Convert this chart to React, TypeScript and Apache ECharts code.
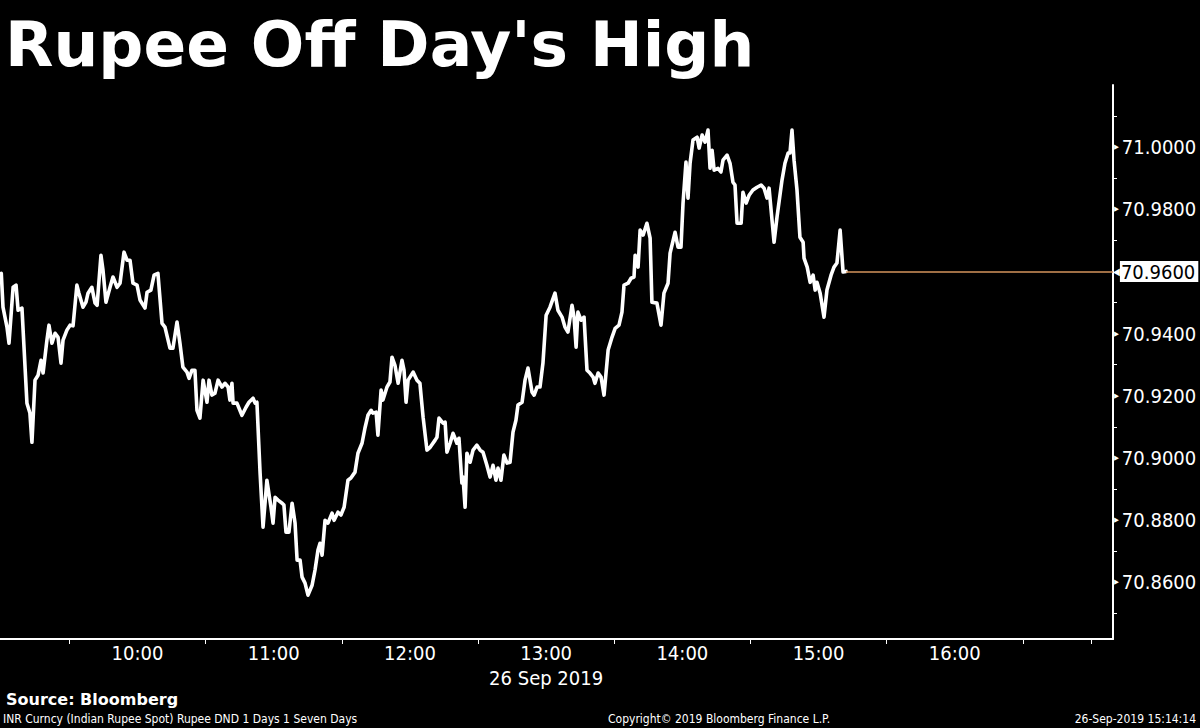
import React, { useEffect, useRef } from "react";
import * as echarts from "echarts";

// Minutes after 09:00 on 26 Sep 2019
const MINUTES = [
  0, 0.75, 2.5, 3.4, 5.2, 6.5, 7.4, 9.1, 11.3, 12.6, 13.5, 14.85, 16.2, 17.5, 18.4, 20.1, 21.0, 22.3, 23.7, 25.0,
  26.3, 27.2, 28.9, 30.3, 31.6, 33.3, 34.2, 36.0, 37.3, 38.2, 39.9, 41.3, 42.2, 43.9, 44.8, 46.1, 47.9, 49.2, 51.0, 52.3,
  54.05, 55.4, 56.7, 58.0, 59.8, 61.1, 63.3, 64.2, 65.9, 67.3, 69.0, 70.8, 72.1, 74.3, 75.6, 77.4, 78.7, 80.0, 81.8, 82.7,
  84.0, 85.3, 86.2, 87.5, 88.9, 90.6, 91.5, 92.8, 94.1, 95.5, 97.2, 98.5, 99.9, 100.7, 101.6, 102.1, 103.8, 106.0, 107.8, 109.1,
  110.9, 111.8, 112.6, 114.0, 115.3, 117.0, 118.8, 119.7, 120.6, 121.9, 123.7, 124.5, 125.4, 126.7, 128.1, 129.4, 130.3, 131.6, 132.5, 133.8,
  135.1, 136.9, 138.2, 139.5, 140.4, 141.3, 142.6, 143.9, 145.7, 146.6, 148.3, 149.6, 151.0, 152.7, 154.0, 155.8, 157.1, 158.9, 160.2, 161.5,
  162.9, 163.7, 165.1, 165.9, 167.3, 168.1, 169.9, 171.2, 172.1, 173.4, 174.8, 176.5, 177.4, 178.3, 179.2, 181.4, 183.1, 184.4, 185.8, 187.5,
  188.9, 191.1, 191.9, 192.8, 194.6, 195.5, 196.3, 197.7, 199.0, 200.7, 201.6, 202.9, 203.4, 204.3, 205.1, 206.5, 207.8, 209.5, 210.9, 212.2,
  213.9, 215.3, 216.6, 217.9, 218.8, 220.1, 221.4, 222.8, 224.1, 225.4, 226.7, 227.6, 229.4, 230.7, 232.0, 233.8, 234.7, 236.0, 237.3, 238.6,
  240.0, 241.7, 243.9, 245.2, 247.0, 248.3, 249.6, 251.4, 252.3, 253.2, 254.0, 255.4, 256.7, 258.0, 259.3, 260.7, 261.5, 262.9, 264.2, 265.5,
  267.3, 269.0, 270.4, 272.1, 273.4, 274.3, 276.1, 277.4, 278.7, 279.2, 280.5, 281.4, 282.7, 284.4, 285.8, 286.6, 288.8, 290.6, 291.9, 293.7,
  294.6, 296.8, 298.1, 299.4, 300.3, 301.6, 302.5, 303.4, 304.7, 306.5, 307.4, 308.7, 310.0, 311.3, 312.2, 313.1, 314.0, 315.7, 317.0, 317.9,
  319.7, 321.0, 322.3, 323.2, 324.1, 325.9, 326.7, 328.1, 329.4, 331.1, 332.9, 334.7, 336.0, 337.3, 338.2, 339.5, 340.4, 341.7, 343.9, 345.2,
  346.6, 347.4, 348.3, 349.2, 350.5, 351.8, 353.2, 353.6, 355.0, 356.3, 357.6, 358.5, 359.3, 360.7, 362.4, 363.7, 365.5, 366.8, 368.1, 369.5,
  370.8, 372.1,
];

const RATE = [
  70.9594, 70.9485, 70.9421, 70.9369, 70.9549, 70.9556, 70.9475, 70.9482, 70.9176, 70.9144, 70.905, 70.925, 70.9266, 70.9314, 70.9273, 70.9379, 70.9427, 70.9369, 70.9401, 70.9388,
  70.9305, 70.9379, 70.9411, 70.9427, 70.9425, 70.9556, 70.953, 70.9485, 70.9501, 70.953, 70.9549, 70.9498, 70.9491, 70.9652, 70.9604, 70.9501, 70.9549, 70.9582, 70.9549, 70.9562,
  70.9662, 70.9636, 70.9636, 70.9562, 70.9556, 70.9508, 70.9482, 70.9533, 70.954, 70.9588, 70.9594, 70.9433, 70.9421, 70.9353, 70.9353, 70.9437, 70.9369, 70.9292, 70.9276, 70.9256,
  70.9282, 70.9282, 70.9153, 70.9128, 70.925, 70.9179, 70.925, 70.9202, 70.9208, 70.925, 70.9228, 70.924, 70.9228, 70.9186, 70.924, 70.9176, 70.9176, 70.9137, 70.9163, 70.9179,
  70.9192, 70.9176, 70.9179, 70.8951, 70.8777, 70.8928, 70.8841, 70.879, 70.8873, 70.8864, 70.8854, 70.8848, 70.8761, 70.8761, 70.8854, 70.879, 70.8671, 70.8671, 70.8616, 70.8597,
  70.8558, 70.859, 70.8639, 70.8703, 70.8725, 70.8687, 70.8799, 70.879, 70.8822, 70.8799, 70.8825, 70.8816, 70.8841, 70.8928, 70.8935, 70.8954, 70.9015, 70.9047, 70.9096, 70.9137,
  70.9153, 70.9144, 70.9147, 70.9073, 70.9218, 70.9186, 70.9228, 70.9244, 70.9324, 70.9298, 70.924, 70.9314, 70.9282, 70.9179, 70.925, 70.9276, 70.925, 70.924, 70.9131, 70.9025,
  70.9034, 70.9057, 70.9066, 70.9128, 70.9112, 70.9115, 70.9018, 70.9047, 70.9079, 70.9047, 70.9063, 70.8919, 70.8938, 70.8841, 70.9015, 70.8986, 70.9025, 70.9041, 70.9025, 70.9018,
  70.8976, 70.8938, 70.8976, 70.8928, 70.8967, 70.8928, 70.9009, 70.8983, 70.8986, 70.9083, 70.9121, 70.917, 70.9179, 70.925, 70.9289, 70.9211, 70.9202, 70.9228, 70.9228, 70.9305,
  70.9459, 70.9485, 70.953, 70.9475, 70.9453, 70.9421, 70.9405, 70.9491, 70.9453, 70.9356, 70.9469, 70.9443, 70.9453, 70.9282, 70.9273, 70.926, 70.924, 70.9273, 70.926, 70.9202,
  70.9347, 70.9388, 70.9417, 70.9427, 70.9469, 70.9556, 70.9562, 70.9578, 70.9582, 70.9652, 70.9614, 70.9733, 70.9717, 70.9755, 70.9707, 70.9501, 70.9498, 70.9427, 70.953, 70.9562,
  70.9659, 70.9726, 70.9678, 70.9678, 70.982, 70.9952, 70.9836, 70.9948, 71.0023, 71.0032, 70.9997, 71.0039, 71.0016, 71.0055, 70.9932, 70.999, 70.9926, 70.9932, 70.992, 70.9958,
  70.9974, 70.9948, 70.9887, 70.9878, 70.9755, 70.9755, 70.9855, 70.982, 70.9845, 70.9862, 70.9871, 70.9878, 70.9868, 70.9836, 70.9868, 70.9765, 70.9694, 70.9775, 70.9894, 70.9948,
  70.9981, 70.9981, 71.0055, 70.9958, 70.9862, 70.971, 70.9694, 70.9643, 70.9614, 70.9565, 70.9588, 70.954, 70.9565, 70.953, 70.9453, 70.954, 70.9588, 70.9614, 70.9627, 70.9733,
  70.9598, 70.96,
];

const LAST_VALUE = 70.96;
const X_MIN = -0.57;
const X_MAX = 489.7;
const Y_MIN = 70.8417;
const Y_MAX = 71.02;
const X_LABEL_MINUTES = [60, 120, 180, 240, 300, 360, 420];
const X_TICK_MINUTES = [30, 90, 150, 210, 270, 330, 390, 450, 480];
const Y_LABEL_VALUES = [70.86, 70.88, 70.9, 70.92, 70.94, 70.98, 71.0];
const Y_TICK_VALUES = [70.85, 70.87, 70.89, 70.91, 70.93, 70.95, 70.97, 70.99, 71.01];
const DATE_LABEL = "26 Sep 2019";
const DATE_LABEL_AT = 240;
const TITLE = "Rupee Off Day's High";
const SOURCE = "Source: Bloomberg";
const FOOT_LEFT = "INR Curncy (Indian Rupee Spot) Rupee DND 1 Days 1 Seven Days";
const FOOT_MID = "Copyright\u00a9 2019 Bloomberg Finance L.P.";
const FOOT_RIGHT = "26-Sep-2019 15:14:14";

const AXIS_FONT = '"DejaVu Sans Condensed", "DejaVu Sans", sans-serif';
const LAST_LINE_COLOR = "#d4955c";

function fmtTime(m: number): string {
  const total = Math.round(m) + 9 * 60;
  const h = Math.floor(total / 60);
  const mm = total % 60;
  return `${h}:${mm < 10 ? "0" + mm : mm}`;
}

export default function App() {
  const ref = useRef<HTMLDivElement>(null);

  useEffect(() => {
    if (!ref.current) return;
    const chart = echarts.init(ref.current, undefined, { renderer: "svg" });
    const data = MINUTES.map((m, i) => [m, RATE[i]]);
    const lastM = MINUTES[MINUTES.length - 1];

    chart.setOption({
      animation: false,
      backgroundColor: "#000000",
      grid: { left: 0, right: 87, top: 85, bottom: 89, containLabel: false },
      xAxis: {
        type: "value",
        min: X_MIN,
        max: X_MAX,
        splitLine: { show: false },
        axisLine: { show: true, onZero: false, lineStyle: { color: "#ffffff", width: 2 } },
        axisTick: {
          show: true,
          inside: false,
          length: 5,
          customValues: X_TICK_MINUTES,
          lineStyle: { color: "#ffffff", width: 1 },
        },
        axisLabel: {
          show: true,
          customValues: X_LABEL_MINUTES,
          color: "#ffffff",
          fontFamily: AXIS_FONT,
          fontSize: 20,
          lineHeight: 25,
          margin: 1,
          formatter: (v: number) =>
            Math.round(v) === DATE_LABEL_AT ? `${fmtTime(v)}\n${DATE_LABEL}` : fmtTime(v),
        },
      },
      yAxis: {
        type: "value",
        position: "right",
        min: Y_MIN,
        max: Y_MAX,
        scale: true,
        splitLine: { show: false },
        axisLine: { show: true, onZero: false, lineStyle: { color: "#ffffff", width: 2 } },
        axisTick: {
          show: true,
          inside: false,
          length: 4,
          customValues: Y_TICK_VALUES,
          lineStyle: { color: "#ffffff", width: 1 },
        },
        axisLabel: {
          show: true,
          customValues: Y_LABEL_VALUES,
          margin: 1,
          formatter: (v: number) => `{t|\u25B6}{v|${v.toFixed(4)}}`,
          rich: {
            t: { color: "#ffffff", fontSize: 7, fontFamily: AXIS_FONT, padding: [0, 3, 0, 0] },
            v: { color: "#ffffff", fontSize: 20, fontFamily: AXIS_FONT },
          },
        },
      },
      series: [
        {
          type: "line",
          data,
          showSymbol: false,
          symbol: "none",
          color: "#ffffff",
          lineStyle: { color: "#ffffff", width: 3.6, join: "round", cap: "round" },
          z: 3,
          markLine: {
            silent: true,
            symbol: "none",
            animation: false,
            lineStyle: { color: LAST_LINE_COLOR, width: 1.5, type: "solid", opacity: 1 },
            label: {
              show: true,
              position: "end",
              distance: 0,
              formatter: `{a|\u25C0}{b|${LAST_VALUE.toFixed(4)}}`,
              rich: {
                a: { color: "#ffffff", fontSize: 10, fontFamily: AXIS_FONT, padding: [0, 0, 0, 0] },
                b: {
                  color: "#000000",
                  backgroundColor: "#ffffff",
                  fontSize: 20,
                  fontFamily: AXIS_FONT,
                  padding: [1, 3, 0, 1],
                },
              },
            },
            data: [
              [
                { coord: [lastM, LAST_VALUE], lineStyle: { color: LAST_LINE_COLOR, width: 1.5 } },
                { coord: [X_MAX, LAST_VALUE] },
              ],
            ],
          },
        },
      ],
      graphic: [
        {
          type: "text",
          x: 5,
          y: 44,
          style: {
            text: TITLE,
            fill: "#ffffff",
            font: 'bold 63px "DejaVu Sans", sans-serif',
            verticalAlign: "middle",
          },
        },
        {
          type: "text",
          x: 6,
          y: 699,
          style: {
            text: SOURCE,
            fill: "#ffffff",
            font: 'bold 16px "DejaVu Sans", sans-serif',
            verticalAlign: "middle",
          },
        },
        {
          type: "text",
          x: 3,
          y: 719,
          style: {
            text: FOOT_LEFT,
            fill: "#ffffff",
            font: '12px "DejaVu Sans Condensed", sans-serif',
            verticalAlign: "middle",
          },
        },
        {
          type: "text",
          x: 608,
          y: 719,
          style: {
            text: FOOT_MID,
            fill: "#ffffff",
            font: '12px "DejaVu Sans Condensed", sans-serif',
            verticalAlign: "middle",
          },
        },
        {
          type: "text",
          x: 1196,
          y: 719,
          style: {
            text: FOOT_RIGHT,
            fill: "#ffffff",
            font: '12px "DejaVu Sans Condensed", sans-serif',
            align: "right",
            verticalAlign: "middle",
          },
        },
      ],
    });

    return () => chart.dispose();
  }, []);

  return (
    <div
      ref={ref}
      style={{ position: "fixed", left: 0, top: 0, width: 1200, height: 728, background: "#000" }}
    />
  );
}
